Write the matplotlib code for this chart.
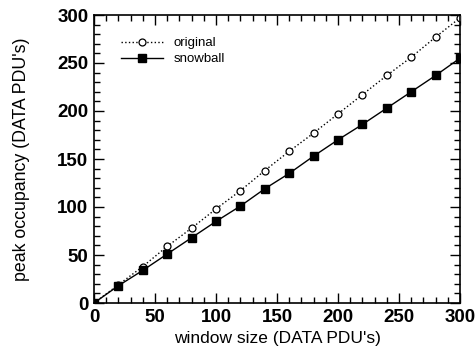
import matplotlib
matplotlib.use("Agg")
import matplotlib.pyplot as plt
from matplotlib.ticker import MultipleLocator

plt.rcParams['font.family'] = ['Liberation Sans', 'DejaVu Sans']

window = [0, 20, 40, 60, 80, 100, 120, 140, 160, 180, 200, 220, 240, 260, 280, 300]
original = [0, 19, 38, 59, 78, 98, 117, 138, 158, 177, 197, 217, 237, 256, 277, 297]
snowball = [0, 18, 34, 51, 68, 85, 101, 119, 135, 153, 170, 186, 203, 220, 237, 255]

fig = plt.figure(figsize=(4.76, 3.57), dpi=100)
ax = fig.add_axes([94 / 476, 1 - 303 / 357, 366 / 476, 288 / 357])

ax.plot(window, original, color='black', linestyle=':', linewidth=1.0,
        marker='o', markersize=5, markerfacecolor='white', markeredgewidth=0.9,
        label='original')
ax.plot(window, snowball, color='black', linestyle='-', linewidth=1.0,
        marker='s', markersize=5.5, markerfacecolor='black', label='snowball')

ax.set_xlim(0, 300)
ax.set_ylim(0, 300)
ax.xaxis.set_major_locator(MultipleLocator(50))
ax.xaxis.set_minor_locator(MultipleLocator(10))
ax.yaxis.set_major_locator(MultipleLocator(50))
ax.yaxis.set_minor_locator(MultipleLocator(10))
ax.tick_params(which='both', direction='in', top=True, right=True, width=1.0)
ax.tick_params(which='major', length=7, labelsize=13.5, pad=4)
ax.tick_params(which='minor', length=4)
for lab in ax.get_xticklabels() + ax.get_yticklabels():
    lab.set_fontweight('bold')
for s in ax.spines.values():
    s.set_linewidth(1.2)

ax.set_xlabel("window size (DATA PDU's)", fontsize=12.5, labelpad=4)
ax.set_ylabel("peak occupancy (DATA PDU's)", fontsize=12.8, labelpad=20)

ax.legend(loc='upper left', frameon=False, fontsize=9.5, handlelength=3.2,
          bbox_to_anchor=(0.04, 0.965), labelspacing=0.3)

fig.savefig('out.png', dpi=100)
